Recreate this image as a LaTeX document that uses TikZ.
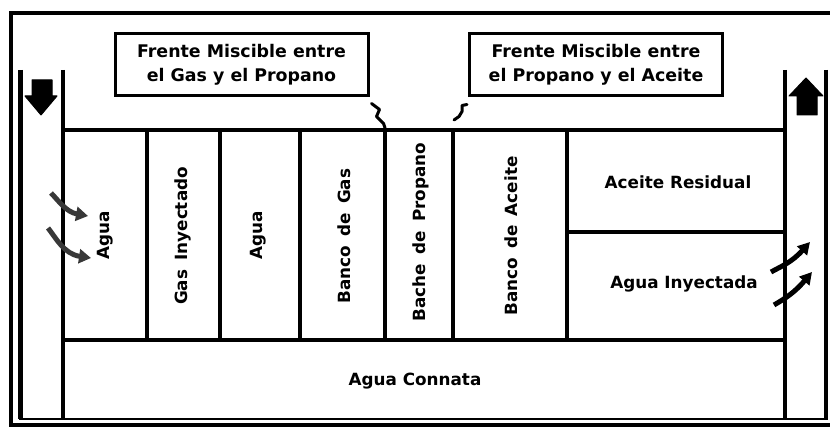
\documentclass[tikz,border=0pt]{standalone}
\usepackage{fontspec}
\setmainfont{DejaVu Sans}
\usetikzlibrary{arrows.meta,calc}
\newcommand{\wgap}{\hspace{0.55em}}
\begin{document}
\begin{tikzpicture}[x=1pt,y=-1pt,
  wall/.style={line width=4.5pt},
  thinwall/.style={line width=2.5pt},
  lbl/.style={font=\fontsize{16.8}{18}\selectfont\bfseries, inner sep=0pt},
  vlbl/.style={lbl, rotate=90},
  callout/.style={draw, line width=3pt, minimum width=253pt, minimum height=62pt,
    align=center, inner sep=0pt, font=\fontsize{17.4}{24}\selectfont\bfseries},
  squig/.style={line width=3pt, line cap=round, line join=round},
  grayarrow/.style={line width=5pt, draw=black!78, -{Triangle[length=12pt,width=14pt]}},
  blackarrow/.style={line width=5pt, draw=black, -{Triangle[length=12pt,width=13pt]}},
  blockarrow/.style={fill=black, draw=black, line width=1pt, line join=round}]
\useasboundingbox (0,0) rectangle (830,430);
\clip (0,0) rectangle (830,430);
\fill[white] (0,0) rectangle (830,430);

% outer frame
\draw[line width=4pt] (840,13.5) -- (10.5,13.5) -- (10.5,425) -- (840,425);

% wells
\draw[wall] (20.5,70) -- (20.5,419);
\draw[wall] (63,70) -- (63,419);
\draw[wall] (785,70) -- (785,419);
\draw[wall] (826,70) -- (826,419);
\draw[thinwall] (19,419) -- (828,419);

% reservoir
\draw[wall] (63,130) -- (785,130);
\draw[wall] (63,340) -- (785,340);
\foreach \xx in {147,220,300,385,453,567} {\draw[wall] (\xx,130) -- (\xx,340);}
\draw[wall] (567,232) -- (785,232);

\coordinate (d4) at (385,128);
\coordinate (d5) at (454,120);

% labels
\node[vlbl] (l1) at (105,235) {Agua};
\node[vlbl] (l2) at (183,236) {Gas\wgap Inyectado};
\node[vlbl] (l3) at (258,235) {Agua};
\node[vlbl] (l4) at (344,236) {Banco\wgap de\wgap Gas};
\node[vlbl] (l5) at (421,232) {Bache\wgap de\wgap Propano};
\node[vlbl] (l6) at (511,236) {Banco\wgap de\wgap Aceite};
\node[lbl] (l7) at (678,182) {Aceite Residual};
\node[lbl] (l8) at (684,284) {Agua Inyectada};
\node[lbl] (l9) at (415,381) {Agua Connata};

% callouts
\node[callout] (f1) at (241.5,65) {Frente Miscible entre\\el Gas y el Propano};
\node[callout] (f2) at (596,65) {Frente Miscible entre\\el Propano y el Aceite};

% squiggle connectors
\draw[squig] (f1.south east) ++(2,6) -- ++(8,6) -- ++(-3,7) -- ++(7,7) -- (d4);
\draw[squig] (f2.south west) ++(-1,7) -- ++(-5,1) -- ++(0,6) -- ++(-3,5) -- (d5);

% block arrows
\filldraw[blockarrow] (32,80) -- (52,80) -- (52,96) -- (57,96) -- (41,115) -- (25,96) -- (32,96) -- cycle;
\filldraw[blockarrow] (797,115) -- (817,115) -- (817,96) -- (823,96) -- (806,78) -- (789,96) -- (797,96) -- cycle;

% flow arrows left
\coordinate (a1s) at (51,193);
\coordinate (a1e) at (88,216);
\coordinate (a2s) at (48,228);
\coordinate (a2e) at (91,258);
\draw[grayarrow] (a1s) .. controls (58,200) and (66,212) .. (a1e);
\draw[grayarrow] (a2s) .. controls (56,238) and (64,254) .. (a2e);

% flow arrows right
\coordinate (b1s) at (771,272);
\coordinate (b1e) at (810,242);
\coordinate (b2s) at (774,305);
\coordinate (b2e) at (812,272);
\draw[blackarrow] (b1s) .. controls (782,266) and (792,262) .. (b1e);
\draw[blackarrow] (b2s) .. controls (786,298) and (795,292) .. (b2e);
\end{tikzpicture}
\end{document}
